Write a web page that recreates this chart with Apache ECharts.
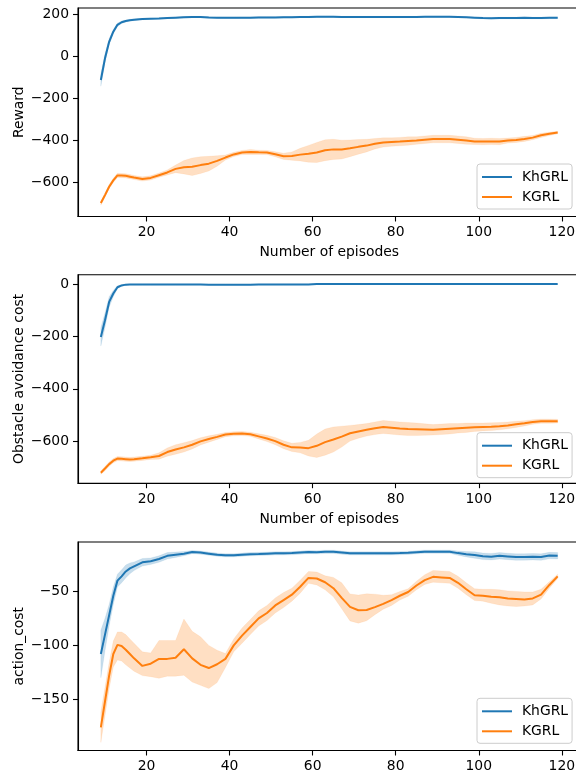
<!DOCTYPE html>
<html>
<head>
    <meta charset="UTF-8">
    <title>KhGRL vs KGRL</title>
    <script type="text/javascript" src="https://cdn.jsdelivr.net/npm/echarts@6/dist/echarts.min.js"></script>
</head>
<body style="margin:0;">
    <div id="curves" style="width:576px; height:779px;"></div>
    <script>
        // episodes (x), shared by all three panels
        var episodes = [9,10,11,12,13,14,15,16,17,19,21,23,25,27,29,31,33,35,37,39,41,43,45,47,49,51,53,55,57,59,
                        61,63,65,67,69,71,73,75,77,79,81,83,85,87,89,91,93,95,97,99,101,103,105,107,109,111,113,115,117,119];
        var xTicks = [20,40,60,80,100,120];

        // panel 1: Reward
        var rewardKh = [-111,-8,71,119,152,164,170,174,176,179, 181,182,184,186,188,189,189,187,186,185,
                        185,186,186,187,187,187,188,188,189,189, 190,190,190,189,189,189,189,189,189,189,
                        189,189,189,190,190,190,190,189,188,186, 184,183,184,184,184,185,184,184,185,185];
        var rewardKhSpread = [30,22,15,10,8,6,5,4,4,3, 3,3,3,3,3,3,3,3,3,3, 3,3,3,3,3,3,3,3,3,3,
                              3,3,3,3,3,3,3,3,3,3, 3,3,3,3,3,3,3,3,3,3, 4,4,4,4,4,4,4,4,4,4];
        var rewardK = [-698,-660,-620,-590,-566,-567,-568,-572,-576,-583, -578,-565,-552,-535,-527,-525,-517,-510,-497,-481,
                       -466,-457,-454,-456,-457,-465,-475,-474,-467,-463, -457,-446,-442,-443,-437,-430,-424,-415,-409,-407,
                       -405,-402,-400,-396,-393,-393,-393,-396,-400,-404, -405,-404,-405,-400,-397,-392,-386,-375,-368,-362];
        var rewardKSpread = [10,10,10,10,10,10,10,10,10,10, 10,10,12,18,32,42,40,35,25,12,
                             10,10,12,10,10,12,15,20,30,40, 48,50,48,45,40,35,30,25,22,20,
                             20,20,18,18,18,18,18,18,18,15, 15,15,15,12,12,12,10,10,8,6];
        var rewardTicks = [-600,-400,-200,0,200];

        // panel 2: Obstacle avoidance cost
        var obsKh = [-202,-138,-68,-36,-12,-5,-2,-1,-1,-1, -1,-1,-1,-1,-1,-1,-1,-2,-2,-2,
                     -2,-2,-2,-1,-1,-1,-1,-1,-1,-1, 0,0,0,0,0,0,0,0,0,0,
                     0,0,0,0,0,0,0,0,0,0, 0,0,0,0,0,0,0,0,0,0];
        var obsKhSpread = [35,28,20,12,6,3,2,1,1,1, 1,1,1,1,1,1,1,1,1,1, 1,1,1,1,1,1,1,1,1,1,
                           1,1,1,1,1,1,1,1,1,1, 1,1,1,1,1,1,1,1,1,1, 1,1,1,1,1,1,1,1,1,1];
        var obsK = [-721,-705,-688,-675,-667,-668,-669,-670,-669,-666, -662,-657,-642,-632,-624,-614,-601,-592,-584,-575,
                    -572,-571,-574,-582,-590,-600,-614,-624,-625,-627, -618,-604,-594,-583,-570,-563,-557,-551,-546,-549,
                    -552,-554,-555,-556,-557,-555,-553,-551,-549,-547, -546,-545,-543,-540,-536,-532,-527,-524,-524,-524];
        var obsKSpread = [6,8,8,8,8,8,8,8,8,8, 8,12,16,18,18,16,14,12,10,8,
                          8,8,8,10,12,14,15,16,20,30, 45,50,48,40,30,26,24,24,25,25,
                          25,25,24,22,20,20,20,18,18,16, 15,15,14,13,12,10,9,8,8,7];
        var obsTicks = [-600,-400,-200,0];

        // panel 3: action_cost
        var actKh = [-108,-90,-72,-54,-40,-36,-31.5,-28.6,-26.7,-23, -22,-20,-17,-16,-15,-13.5,-14,-15,-16,-16.5,
                     -16.5,-16,-15.5,-15.3,-15,-14.7,-14.7,-14.5,-14,-13.5, -13.7,-13.3,-13.3,-14,-14.7,-14.7,-14.7,-14.7,-14.7,-14.7,
                     -14.5,-14.2,-13.7,-13.2,-13.2,-13.2,-13.2,-14.5,-15.5,-16.3, -17.5,-17.8,-17,-17.6,-18.2,-18,-17.8,-18.2,-16.8,-17];
        var actKhSpread = [22,15,10,8,6,6,6,5,4,3.5, 3,3,3,2.5,2,1.5,1.5,1.5,1.5,1.5,
                           1.5,1.5,1.5,1.5,1.5,1.5,1.5,1.5,1.5,1.5, 1.5,1.5,1.5,1.5,1.5,1.5,1.5,1.5,1.5,1.5,
                           1.5,1.5,1.5,1.5,1.5,1.5,1.5,2,2.5,3, 3,3,3,3,3,3,3,3,3,3];
        var actK = [-176,-152,-128,-108,-99.5,-100.5,-104,-108,-112,-119, -117,-112.5,-112.5,-111.5,-103.6,-112,-118,-121,-117.5,-112.5,
                    -100,-91,-83,-75,-70,-63,-58,-53,-45.7,-37.5, -38,-41.5,-47,-56,-64.3,-67.4,-67.2,-64.5,-61.5,-58,
                    -54,-50.5,-44.5,-39.5,-36.5,-37,-37.5,-42,-48,-53.5, -54,-55,-55.5,-56.5,-57,-57.5,-56.5,-53,-44,-36];
        var actKUp = [14,13,12,12,12,13,14,14,14,13, 10,17,17,16,28,25,26,21,13,5,
                      6,7,7,7,7,7,7,6,6,6, 6,6,10,14,12,14,15,12,8,5,
                      4,3,4,5,6,6,6,6,6,6, 6,7,7,7,7,7,6,5,3,2];
        var actKDown = [14,13,12,12,14,14,14,13,12,9, 12,18,16,17,24,22,19,19,17,8,
                        6,7,7,7,7,7,7,6,6,5, 6,7,8,10,13,12,10,7,5,5,
                        4,4,4,4,5,5,5,5,5,5, 5,6,7,7,7,6,6,4,3,2];
        var actTicks = [-150,-100,-50];

        var BLUE = '#1f77b4', ORANGE = '#ff7f0e';
        var FONT = 'DejaVu Sans';
        var tops = [8, 274.7, 542];

        // shaded spread drawn as one polygon through the axis coordinates
        function bandSeries(g, mean, down, up, fill, edge) {
            return {
                type: 'custom', xAxisIndex: g, yAxisIndex: g, silent: true,
                data: episodes.map(function (x, i) { return [x, mean[i] - down[i], mean[i] + up[i]]; }),
                encode: {x: 0, y: [1, 2]},
                renderItem: function (params, api) {
                    if (params.dataIndex !== 0) return;
                    var top = [], bottom = [];
                    episodes.forEach(function (x, i) {
                        bottom.push(api.coord([x, mean[i] - down[i]]));
                        top.unshift(api.coord([x, mean[i] + up[i]]));
                    });
                    return {
                        type: 'polygon',
                        shape: {points: bottom.concat(top)},
                        style: {fill: fill, stroke: edge, lineWidth: 0.5}
                    };
                }
            };
        }
        function meanSeries(g, name, mean, color) {
            return {
                type: 'line', name: name, xAxisIndex: g, yAxisIndex: g,
                data: episodes.map(function (x, i) { return [x, mean[i]]; }),
                symbol: 'none', color: color, lineStyle: {width: 2, color: color}
            };
        }

        var panels = [
            {kh: rewardKh, khS: rewardKhSpread, k: rewardK, kDn: rewardKSpread, kUp: rewardKSpread,
             min: -762, max: 232, ticks: rewardTicks, yName: 'Reward', xName: 'Number of episodes'},
            {kh: obsKh, khS: obsKhSpread, k: obsK, kDn: obsKSpread, kUp: obsKSpread,
             min: -761, max: 36, ticks: obsTicks, yName: 'Obstacle avoidance cost', xName: 'Number of episodes'},
            {kh: actKh, khS: actKhSpread, k: actK, kDn: actKDown, kUp: actKUp,
             min: -197.4, max: -4.2, ticks: actTicks, yName: 'action_cost', xName: ''}
        ];

        var grids = [], xAxes = [], yAxes = [], series = [], legends = [];
        var axisText = {color: '#000', fontSize: 13.9, fontFamily: FONT};
        panels.forEach(function (p, g) {
            grids.push({left: 78, top: tops[g], width: 502.5, height: 208.5, outerBoundsMode: 'none',
                        show: true, borderColor: '#000', borderWidth: 1.1, backgroundColor: 'transparent'});
            xAxes.push({
                type: 'value', gridIndex: g, min: 3.5, max: 124.5,
                name: p.xName, nameLocation: 'middle', nameGap: 29, nameMoveOverlap: false, nameTextStyle: axisText,
                axisLine: {show: true, onZero: false, lineStyle: {color: '#000', width: 1.1}},
                axisTick: {show: true, length: 5, customValues: xTicks, lineStyle: {color: '#000', width: 1.1}},
                axisLabel: Object.assign({margin: 9, customValues: xTicks}, axisText),
                splitLine: {show: false}
            });
            yAxes.push({
                type: 'value', gridIndex: g, min: p.min, max: p.max,
                name: p.yName, nameLocation: 'middle', nameGap: 52, nameMoveOverlap: false, nameTextStyle: axisText,
                axisLine: {show: true, onZero: false, lineStyle: {color: '#000', width: 1.1}},
                axisTick: {show: true, length: 5, customValues: p.ticks, lineStyle: {color: '#000', width: 1.1}},
                axisLabel: Object.assign({margin: 9, customValues: p.ticks,
                    formatter: function (v) { return String(v).replace('-', '\u2212'); }}, axisText),
                splitLine: {show: false}
            });
            series.push(bandSeries(g, p.kh, p.khS, p.khS, 'rgba(31,119,180,0.25)', 'rgba(31,119,180,0.15)'));
            series.push(meanSeries(g, 'KhGRL', p.kh, BLUE));
            series.push(bandSeries(g, p.k, p.kDn, p.kUp, 'rgba(255,127,14,0.25)', 'rgba(255,127,14,0.15)'));
            series.push(meanSeries(g, 'KGRL', p.k, ORANGE));
        });

        var legendTops = [164, 432.7, 698.3];
        legendTops.forEach(function (t) {
            legends.push({
                data: ['KhGRL', 'KGRL'], orient: 'vertical', left: 477, top: t,
                icon: 'rect', itemWidth: 30, itemHeight: 2, itemGap: 4,
                padding: [5, 4, 4, 5], backgroundColor: 'rgba(255,255,255,0.8)',
                borderColor: '#cccccc', borderWidth: 1, borderRadius: 3,
                selectedMode: false,
                textStyle: {color: '#000', fontSize: 13.9, fontFamily: FONT, lineHeight: 16, padding: [0, 0, 0, 5]}
            });
        });

        var chart_curves = echarts.init(document.getElementById('curves'), null, {renderer: 'canvas'});
        var option_curves = {
            animation: false,
            grid: grids,
            xAxis: xAxes,
            yAxis: yAxes,
            legend: legends,
            series: series
        };
        chart_curves.setOption(option_curves);
    </script>
</body>
</html>
